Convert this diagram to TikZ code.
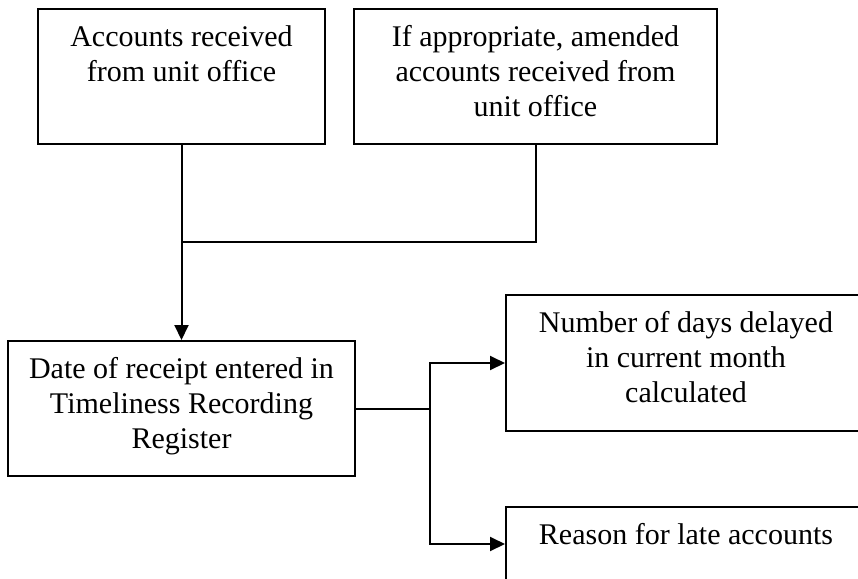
\documentclass[tikz,border=0pt]{standalone}
\usepackage{fontspec}
\setmainfont{Liberation Serif}
\usetikzlibrary{arrows.meta,positioning}

% 上揃えの箱の中身
\newcommand{\boxtext}[3]{\parbox[c][#2][t]{#1}{\centering\rule{0pt}{18.5pt}#3}}

\begin{document}
\begin{tikzpicture}[x=0.5pt, y=-0.5pt,
    box/.style={draw, line width=1pt, inner sep=0pt, font=\fontsize{15}{17.5}\selectfont},
    line/.style={line width=1pt},
    arr/.style={line width=1pt, -{Triangle[length=7.5pt,width=7pt]}}]
    \clip (0,0) rectangle (858,579);

    % ボックス
    \node[box] (acc) at (181.5,76.5) {\boxtext{143.5pt}{67.5pt}{Accounts received\\from unit office}};
    \node[box] (amend) at (535.5,76.5) {\boxtext{181.5pt}{67.5pt}{If appropriate, amended\\accounts received from\\unit office}};
    \node[box] (reg) at (181.5,408.5) {\boxtext{173.5pt}{67.5pt}{Date of receipt entered in\\Timeliness Recording\\Register}};
    \node[box] (days) at (686,363) {\boxtext{180pt}{68pt}{Number of days delayed\\in current month\\calculated}};
    \node[box] (reason) at (686,544) {\boxtext{180pt}{37pt}{Reason for late accounts}};

    % 分岐点
    \coordinate (join) at (181.5,242);
    \coordinate (fork) at (430,408.5);

    % 矢印
    \draw[line] (amend.south) |- (join);
    \draw[arr] (acc.south) -- (reg.north);
    \draw[line] (reg.east) -- (fork);
    \draw[arr] (fork) |- (days.west);
    \draw[arr] (fork) |- (reason.west);
\end{tikzpicture}
\end{document}
